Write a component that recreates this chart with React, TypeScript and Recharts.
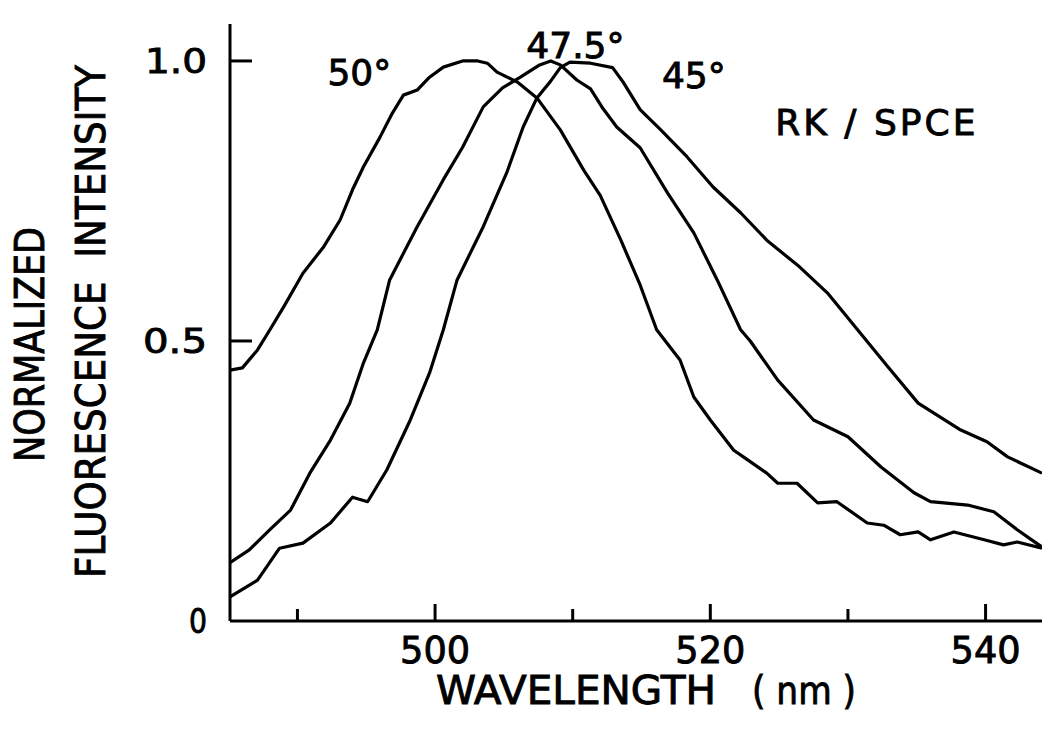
import { LineChart, Line, XAxis, YAxis, ReferenceDot, Customized } from 'recharts';

// Emission spectra, one pair of arrays per angle.
const WL_50 = [485.1, 486.0, 487.1, 488.0, 489.0, 490.4, 491.9, 493.1, 494.0, 494.8, 496.0, 496.9, 497.7, 498.7, 499.6, 500.6, 502.0, 503.1, 503.8, 504.5, 506.0, 507.4, 509.1, 510.8, 512.0, 513.5, 514.9, 516.1, 517.8, 518.8, 520.0, 521.7, 522.4, 524.1, 524.9, 526.3, 527.8, 529.2, 531.4, 532.6, 533.8, 535.1, 536.0, 537.7, 539.9, 541.3, 542.3, 544.1];
const INT_50 = [0.448, 0.452, 0.484, 0.52, 0.561, 0.621, 0.668, 0.716, 0.77, 0.811, 0.864, 0.907, 0.939, 0.948, 0.971, 0.989, 1.0, 1.0, 0.996, 0.98, 0.962, 0.934, 0.877, 0.805, 0.76, 0.68, 0.6, 0.52, 0.466, 0.4, 0.359, 0.305, 0.293, 0.264, 0.246, 0.246, 0.211, 0.213, 0.175, 0.171, 0.154, 0.159, 0.145, 0.159, 0.145, 0.136, 0.141, 0.13];

const WL_475 = [485.1, 486.5, 488.0, 489.5, 490.9, 492.4, 493.8, 494.8, 495.8, 496.7, 498.7, 500.6, 502.0, 503.5, 504.9, 506.2, 507.6, 508.4, 509.1, 510.3, 511.3, 512.2, 513.2, 514.9, 516.9, 518.8, 520.5, 522.2, 522.9, 524.9, 527.5, 530.0, 532.4, 534.8, 536.0, 538.7, 540.6, 542.3, 544.1];
const INT_475 = [0.104, 0.127, 0.163, 0.198, 0.264, 0.323, 0.389, 0.461, 0.52, 0.609, 0.704, 0.788, 0.846, 0.918, 0.952, 0.971, 0.993, 1.0, 0.993, 0.966, 0.95, 0.915, 0.882, 0.845, 0.764, 0.693, 0.609, 0.52, 0.5, 0.43, 0.359, 0.329, 0.275, 0.229, 0.213, 0.207, 0.195, 0.163, 0.132];

const WL_45 = [485.1, 487.1, 488.7, 490.4, 492.4, 494.0, 495.1, 496.5, 498.2, 499.6, 500.6, 501.6, 503.5, 505.2, 506.4, 507.4, 508.4, 509.1, 509.8, 511.3, 512.9, 513.7, 514.9, 516.4, 518.3, 520.2, 522.2, 524.1, 526.5, 528.5, 530.7, 532.9, 535.1, 538.2, 540.1, 541.6, 544.1];
const INT_45 = [0.043, 0.073, 0.13, 0.139, 0.175, 0.221, 0.213, 0.27, 0.359, 0.443, 0.52, 0.609, 0.704, 0.8, 0.882, 0.934, 0.964, 0.988, 0.998, 0.996, 0.988, 0.961, 0.913, 0.877, 0.829, 0.775, 0.729, 0.68, 0.632, 0.586, 0.52, 0.454, 0.389, 0.341, 0.32, 0.293, 0.264];

const X_TICKS = [490, 500, 510, 520, 530, 540];
const Y_TICKS = [0, 0.5, 1.0];
const Y_TICK_LABELS = ['0', '0.5', '1.0'];

// curve labels, placed in data units
const NOTE_TEXT = ['50°', '47.5°', '45°', 'RK / SPCE'];
const NOTE_X = [494.5, 510.2, 518.8, 532.1];
const NOTE_Y = [0.98, 1.029, 0.975, 0.891];

const FONT = 'DejaVu Sans, sans-serif';
const INK = '#000';
// the scan's lettering is a bit heavier than DejaVu regular
const HEAVY = { fill: INK, stroke: INK, strokeWidth: 0.9, fontFamily: FONT };

const toRows = (xs: number[], ys: number[]) => xs.map((wl, i) => ({ wl, v: ys[i] }));

const SERIES = [
  { key: '50', data: toRows(WL_50, INT_50) },
  { key: '47.5', data: toRows(WL_475, INT_475) },
  { key: '45', data: toRows(WL_45, INT_45) },
];

function XTick({ x, y, payload }: any) {
  const major = payload.value % 20 === 0;
  const top = y - 14;
  return (
    <g>
      <line x1={x} x2={x} y1={top} y2={top - (major ? 17 : 12)} stroke={INK} strokeWidth={3} />
      {major && (
        <text x={x - 35} y={y} dy="0.75em" {...HEAVY} fontSize={37} textLength={70} lengthAdjust="spacingAndGlyphs">
          {payload.value}
        </text>
      )}
    </g>
  );
}

const Y_LABEL_W: Record<string, number> = { '0': 18, '0.5': 64, '1.0': 62 };

function YTick({ x, y, payload, index }: any) {
  const axisX = x + 23;
  const label = Y_TICK_LABELS[index] ?? String(payload.value);
  const w = Y_LABEL_W[label] ?? 60;
  return (
    <g>
      {payload.value > 0 && <line x1={axisX} x2={axisX + 22} y1={y} y2={y} stroke={INK} strokeWidth={3} />}
      <text x={x - w} y={y} dy="0.36em" {...HEAVY} fontSize={34} textLength={w} lengthAdjust="spacingAndGlyphs">
        {label}
      </text>
    </g>
  );
}

function YTitle() {
  return (
    <g {...HEAVY} fontSize={40}>
      <text transform="translate(30, 462) rotate(-90)" dy="0.36em" textLength={235} lengthAdjust="spacingAndGlyphs">
        NORMALIZED
      </text>
      <text transform="translate(91, 578) rotate(-90)" dy="0.36em" textLength={513} lengthAdjust="spacingAndGlyphs" xmlSpace="preserve">
        FLUORESCENCE  INTENSITY
      </text>
    </g>
  );
}

function XTitle() {
  return (
    <g {...HEAVY} fontSize={39}>
      <text x={436} y={704} textLength={280} lengthAdjust="spacingAndGlyphs">WAVELENGTH</text>
      <text x={752} y={704} textLength={104} lengthAdjust="spacingAndGlyphs" xmlSpace="preserve">( nm )</text>
    </g>
  );
}

export default function App() {
  return (
    <div style={{ position: 'absolute', left: 0, top: 0, background: '#fff' }}>
      <LineChart width={1042} height={732} margin={{ top: 24, right: 0, left: 0, bottom: 0 }}>
        <XAxis
          dataKey="wl"
          type="number"
          domain={[485.1, 544.1]}
          ticks={X_TICKS}
          allowDataOverflow
          height={111}
          tickSize={0}
          tickMargin={14}
          tickLine={false}
          axisLine={{ stroke: INK, strokeWidth: 3 }}
          tick={<XTick />}
        />
        <XAxis
          xAxisId="top"
          orientation="top"
          type="number"
          domain={[485.1, 544.1]}
          height={0}
          tick={false}
          tickLine={false}
          axisLine={{ stroke: INK, strokeWidth: 2 }}
        />
        <YAxis
          dataKey="v"
          type="number"
          domain={[0, 1.066]}
          ticks={Y_TICKS}
          allowDataOverflow
          width={230}
          tickSize={0}
          tickMargin={23}
          tickLine={false}
          axisLine={{ stroke: INK, strokeWidth: 3 }}
          tick={<YTick />}
        />
        {SERIES.map((s) => (
          <Line
            key={s.key}
            data={s.data}
            dataKey="v"
            type="linear"
            stroke={INK}
            strokeWidth={3.2}
            strokeLinejoin="round"
            dot={false}
            activeDot={false}
            isAnimationActive={false}
          />
        ))}
        {NOTE_TEXT.map((t, i) => (
          <ReferenceDot
            key={t}
            x={NOTE_X[i]}
            y={NOTE_Y[i]}
            r={0}
            ifOverflow="visible"
            shape={(p: any) => (
              <text
                x={p.cx}
                y={p.cy}
                dy="0.36em"
                textAnchor="middle"
                {...HEAVY}
                fontSize={36}
                letterSpacing={t.length > 5 ? 3 : 0}
                xmlSpace="preserve"
              >
                {t}
              </text>
            )}
          />
        ))}
        <Customized component={YTitle} />
        <Customized component={XTitle} />
      </LineChart>
    </div>
  );
}
